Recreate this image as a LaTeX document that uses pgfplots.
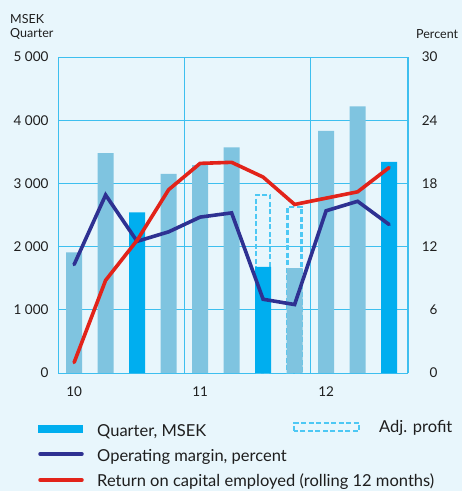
\documentclass[border=0pt]{standalone}
\usepackage{fontspec}
\setmainfont{Lato}
\usepackage{pgfplots}
\pgfplotsset{compat=1.18}
\definecolor{bg}{HTML}{E8F6FC}
\definecolor{lightbar}{HTML}{7FC4E0}
\definecolor{darkbar}{HTML}{00AEEF}
\definecolor{gridc}{HTML}{3DBFEF}
\definecolor{navy}{HTML}{2E3192}
\definecolor{redl}{HTML}{E2231A}
\definecolor{dashc}{HTML}{4DC8F4}
\definecolor{txt}{HTML}{1E1E1E}
\begin{document}
\begin{tikzpicture}[x=1pt,y=1pt]
\fill[bg] (0,0) rectangle (462,491);
\begin{axis}[at={(59pt,118pt)}, anchor=south west, width=349pt, height=316pt, scale only axis,
 xmin=-0.48, xmax=10.6, ymin=0, ymax=5000,
 axis line style={gridc, line width=1pt},
 ytick={0,1000,2000,3000,4000,5000}, yticklabels={0,1 000,2 000,3 000,4 000,5 000},
 ymajorgrids, grid style={gridc, line width=0.9pt},
 xtick={0,4,8}, xticklabels={10,11,12}, major tick length=0pt,
 extra x ticks={3.5,7.5}, extra x tick labels={}, extra x tick style={grid=major, major tick length=0pt},
 tick label style={font=\fontsize{13.5}{15}\selectfont, text=txt},
 yticklabel style={xshift=-7pt},
 xticklabel style={yshift=-10pt},
 clip=false]
\addplot[ybar, bar width=14pt, bar shift=0pt, fill=none, draw=dashc, line width=2.4pt, dash pattern=on 5pt off 2.5pt] coordinates {(6,2820) (7,2630)};
\addplot[ybar, bar width=16pt, bar shift=0pt, fill=lightbar, draw=none] coordinates {(0,1910) (1,3480) (3,3150) (4,3290) (5,3570) (7,1660) (8,3830) (9,4220)};
\addplot[ybar, bar width=16pt, bar shift=0pt, fill=darkbar, draw=none] coordinates {(2,2540) (6,1680) (10,3340)};
\end{axis}
\begin{axis}[at={(59pt,118pt)}, anchor=south west, width=349pt, height=316pt, scale only axis,
 xmin=-0.48, xmax=10.6, ymin=0, ymax=30,
 axis x line=none, axis y line*=right,
 axis line style={gridc, line width=1pt},
 ytick={0,6,12,18,24,30}, yticklabels={0,6,12,18,24,30}, major tick length=0pt,
 tick label style={font=\fontsize{13.5}{15}\selectfont, text=txt},
 yticklabel style={anchor=east, xshift=33pt},
 clip=false]
\addplot[navy, line width=3.6pt, line cap=round] coordinates {(0,10.3) (1,16.9) (2,12.5) (3,13.4) (4,14.8) (5,15.2) (6,7.0) (7,6.5) (8,15.4) (9,16.3) (10,14.1)};
\addplot[redl, line width=3.6pt, line cap=round] coordinates {(0,1.0) (1,8.8) (2,12.6) (3,17.4) (4,19.9) (5,20.0) (6,18.6) (7,16.0) (8,16.6) (9,17.2) (10,19.5)};
\end{axis}
% headings
\node[anchor=base west, inner sep=0, font=\fontsize{12.5}{14}\selectfont, text=txt] at (10,467) {MSEK};
\node[anchor=base west, inner sep=0, font=\fontsize{12.5}{14}\selectfont, text=txt] at (10,453.5) {Quarter};
\node[anchor=base west, inner sep=0, font=\fontsize{12.5}{14}\selectfont, text=txt] at (416,452.5) {Percent};
% legend
\fill[darkbar] (38,58) rectangle (83,66);
\node[anchor=base west, inner sep=0, font=\fontsize{16.5}{18}\selectfont, text=txt] at (97,55) {Quarter, MSEK};
\draw[dashc, line width=2pt, dash pattern=on 5pt off 2.5pt] (294,60) rectangle (359,68);
\node[anchor=base west, inner sep=0, font=\fontsize{16.5}{18}\selectfont, text=txt] at (379,59) {Adj. profit};
\draw[navy, line width=3.5pt, line cap=round] (40,37) -- (82,37);
\node[anchor=base west, inner sep=0, font=\fontsize{16.5}{18}\selectfont, text=txt] at (97,30) {Operating margin, percent};
\draw[redl, line width=3.5pt, line cap=round] (40,11) -- (82,11);
\node[anchor=base west, inner sep=0, font=\fontsize{16.5}{18}\selectfont, text=txt] at (97,5) {Return on capital employed (rolling 12 months)};
\end{tikzpicture}
\end{document}
